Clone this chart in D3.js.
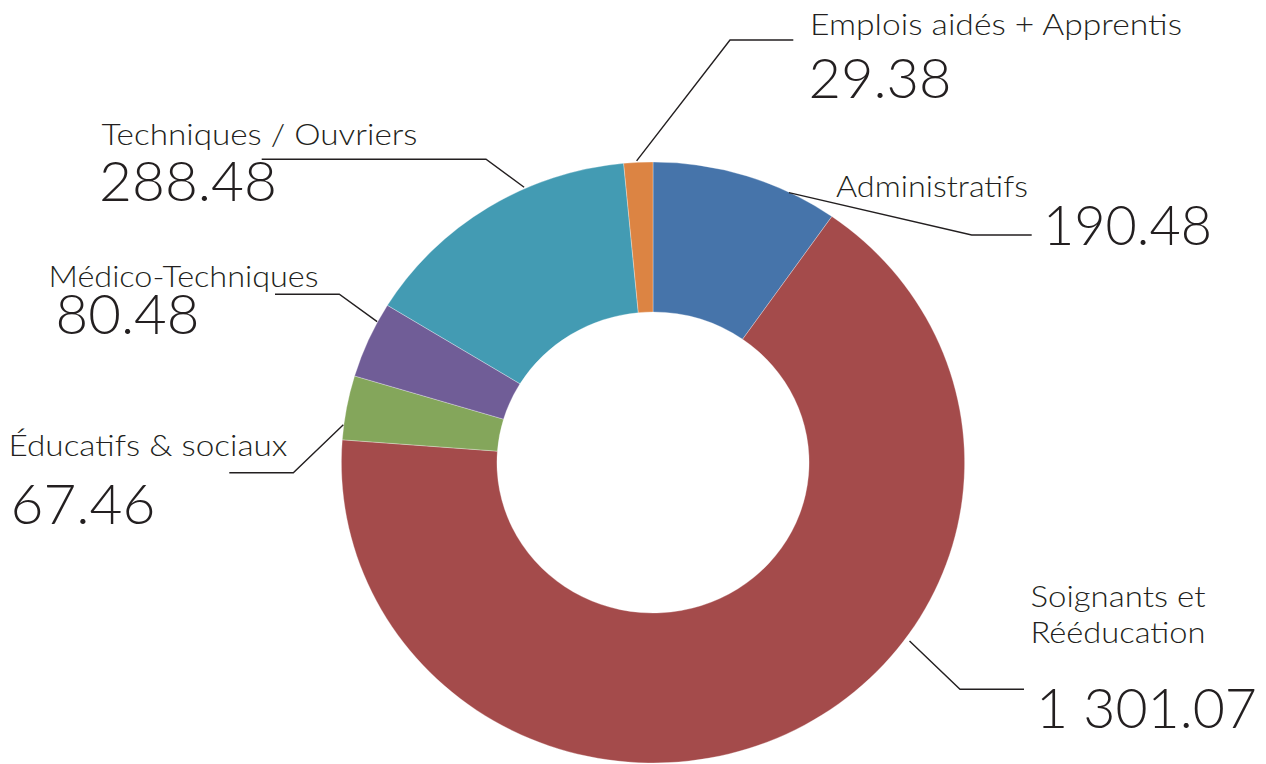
<!DOCTYPE html>
<html>
<head>
<meta charset="utf-8">
<script src="https://cdn.jsdelivr.net/npm/d3@7"></script>
<style>
  html, body { margin: 0; padding: 0; background: #fff; }
  svg { display: block; }
  text { font-family: "Lato", "DejaVu Sans", sans-serif; fill: #231f20; }
</style>
</head>
<body>
<svg id="chart" width="1266" height="764"></svg>
<script>
// ---- Data ----
const categories = ["Administratifs", "Soignants et Rééducation", "Éducatifs & sociaux", "Médico-Techniques", "Techniques / Ouvriers", "Emplois aidés + Apprentis"];
const labelLines = [["Administratifs"], ["Soignants et", "Rééducation"], ["Éducatifs & sociaux"], ["Médico-Techniques"], ["Techniques / Ouvriers"], ["Emplois aidés + Apprentis"]];
const values = [190.48, 1301.07, 67.46, 80.48, 288.48, 29.38];
const colors = ["#4674aa", "#a44b4b", "#84a65b", "#705d97", "#439bb3", "#dc8443"];

// ---- Layout (positions / sizes / styles) ----
const cx = 653, cy = 462.5, rOuter = 300.5, rInner = 150.5, sx = 1.037;
const layout = [
  { a: 25.9,  r: 300, elbow: [971.7, 235],   end: [1031.7, 235],  label: [836, 197.3], lw: [192],      value: [1043, 245],   vw: 169 },
  { a: 125.8, r: 305, elbow: [960, 689.3],   end: [1024, 689.3],  label: [1030.5, 606.7], lw: [175, 175], value: [1036, 728.3], vw: 221 },
  { a: 277.2, r: 301, elbow: [293.3, 472.7], end: [229.3, 472.7], label: [8.5, 455.7], lw: [279],      value: [10.5, 524],   vw: 145 },
  { a: 297.9, r: 301, elbow: [339.3, 294.3], end: [275, 294.3],   label: [48.5, 287.3], lw: [270],     value: [55.5, 334],   vw: 144 },
  { a: 335.7, r: 302, elbow: [486, 159.3],   end: [261.7, 159.3], label: [101.5, 145], lw: [316],      value: [99, 200.7],   vw: 178 },
  { a: 357.0, r: 302, elbow: [730, 40],      end: [793.3, 40],    label: [810, 35], lw: [372],         value: [808.5, 98.3], vw: 143 }
];
const labelSize = 29.5, valueSize = 55, lineHeight = 36;

const fmt = d3.formatLocale({ decimal: ".", thousands: " ", grouping: [3], currency: ["", ""] }).format(",.2f");

const svg = d3.select("#chart");

const pie = d3.pie().sort(null).value(d => d)(values);
const arc = d3.arc().innerRadius(rInner).outerRadius(rOuter);

svg.append("g")
  .attr("transform", `translate(${cx},${cy}) scale(${sx},1)`)
  .selectAll("path")
  .data(pie)
  .join("path")
  .attr("d", arc)
  .attr("fill", (d, i) => colors[i])
  .attr("stroke", "#ffffff")
  .attr("stroke-width", 0.5)
  .attr("stroke-opacity", 0.6);

// leader lines
const rad = Math.PI / 180;
svg.append("g").selectAll("polyline")
  .data(layout)
  .join("polyline")
  .attr("points", d => {
    const x0 = cx + Math.sin(d.a * rad) * d.r * sx;
    const y0 = cy - Math.cos(d.a * rad) * d.r;
    return [[x0, y0], d.elbow, d.end].map(p => p.join(",")).join(" ");
  })
  .attr("fill", "none")
  .attr("stroke", "#231f20")
  .attr("stroke-width", 1.4);

// labels
const lg = svg.append("g");
layout.forEach((d, i) => {
  labelLines[i].forEach((line, j) => {
    lg.append("text")
      .attr("x", d.label[0])
      .attr("y", d.label[1] + j * lineHeight)
      .attr("font-size", labelSize)
      .attr("font-weight", 300)
      .attr("textLength", d.lw[j])
      .attr("lengthAdjust", "spacingAndGlyphs")
      .text(line);
  });
  lg.append("text")
    .attr("x", d.value[0])
    .attr("y", d.value[1])
    .attr("font-size", valueSize)
    .attr("font-weight", 300)
    .attr("textLength", d.vw)
    .attr("lengthAdjust", "spacingAndGlyphs")
    .text(fmt(values[i]));
});
</script>
</body>
</html>
